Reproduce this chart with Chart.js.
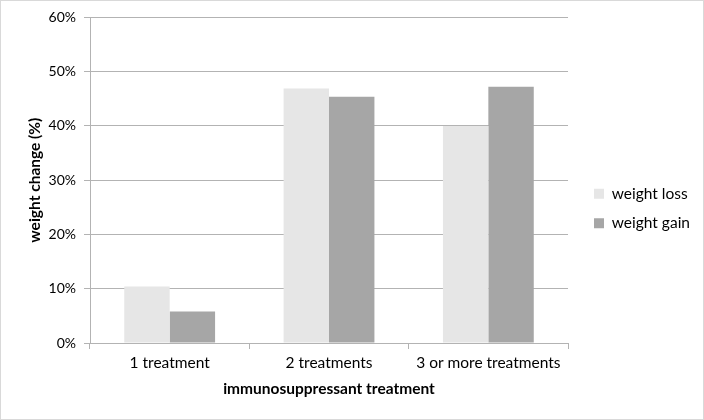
<!DOCTYPE html>
<html>
<head>
<meta charset="utf-8">
<script src="https://cdn.jsdelivr.net/npm/chart.js@4/dist/chart.umd.min.js"></script>
<style>
  html, body { margin: 0; padding: 0; background: #fff; }
  #wrap { position: relative; width: 702px; height: 418px; border: 1px solid #d9d9d9; }
</style>
</head>
<body>
<div id="wrap"><canvas id="chart"></canvas></div>
<script>
// data
const categories = ["1 treatment", "2 treatments", "3 or more treatments"];
const weightLoss = [10.4, 46.9, 40.0];
const weightGain = [5.8, 45.4, 47.2];
const yTicks = [0, 10, 20, 30, 40, 50, 60];

const gridColor = "#b3b3b3";
const font = "Lato, 'Liberation Sans', sans-serif";

// push the legend a bit away from the plot, like the original
const legendNudge = {
  id: "legendNudge",
  afterLayout(chart) {
    chart.legend.left += 12;
    chart.legend.right += 12;
  },
};

const ctx = document.getElementById("chart").getContext("2d");
const chart = new Chart(ctx, {
  type: "bar",
  data: {
    labels: categories,
    datasets: [
      {
        label: "weight loss",
        data: weightLoss,
        backgroundColor: "#e6e6e6",
        categoryPercentage: 0.57,
        barPercentage: 1.0,
      },
      {
        label: "weight gain",
        data: weightGain,
        backgroundColor: "#a6a6a6",
        categoryPercentage: 0.57,
        barPercentage: 1.0,
      },
    ],
  },
  plugins: [legendNudge],
  options: {
    responsive: true,
    maintainAspectRatio: false,
    animation: false,
    layout: { padding: { top: 14, right: 15, left: 21, bottom: 17 } },
    plugins: {
      legend: {
        position: "right",
        labels: {
          boxWidth: 10,
          boxHeight: 10,
          padding: 14,
          color: "#000",
          font: { family: font, size: 15.5 },
        },
      },
      tooltip: { enabled: false },
    },
    scales: {
      x: {
        afterFit: (axis) => {
          axis.height = 59;
        },
        grid: {
          offset: true,
          drawOnChartArea: false,
          color: gridColor,
          tickLength: 6,
        },
        border: { color: gridColor },
        ticks: { color: "#000", font: { family: font, size: 15.5 }, padding: 5 },
        title: {
          display: true,
          text: "immunosuppressant treatment",
          color: "#000",
          font: { family: font, size: 15.5, weight: "bold" },
        },
      },
      y: {
        min: 0,
        max: 60,
        afterBuildTicks: (axis) => {
          axis.ticks = yTicks.map((v) => ({ value: v }));
        },
        afterFit: (axis) => {
          axis.width = 68;
        },
        grid: { color: gridColor, tickLength: 6 },
        border: { color: gridColor },
        ticks: {
          color: "#000",
          font: { family: font, size: 14 },
          padding: 8,
          callback: (v) => v + "%",
        },
        title: {
          display: true,
          text: "weight change (%)",
          color: "#000",
          font: { family: font, size: 15.5, weight: "bold" },
        },
      },
    },
  },
});
</script>
</body>
</html>
